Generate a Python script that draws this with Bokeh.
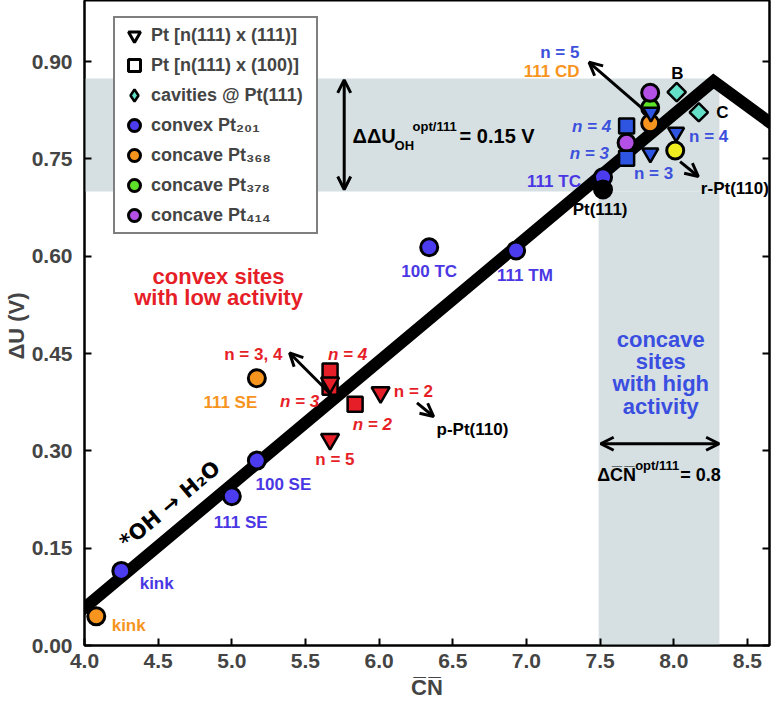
import math
from bokeh.plotting import figure
from bokeh.models import (Label, Arrow, OpenHead, BoxAnnotation, LinearAxis, FixedTicker,
                          Legend, LegendItem, NumeralTickFormatter, CustomJSTickFormatter)
from bokeh.embed import file_html
from bokeh.resources import INLINE

FONT = "Liberation Sans"
NAN = float("nan")

# ---------------- data ----------------
x_ticks = [4.0, 4.5, 5.0, 5.5, 6.0, 6.5, 7.0, 7.5, 8.0, 8.5]
y_ticks = [0.0, 0.15, 0.30, 0.45, 0.60, 0.75, 0.90]

volcano_x = [3.95, 8.27, 8.72]
volcano_y = [0.0485, 0.870, 0.795]

convex_x = [4.25, 5.00, 5.17, 6.34, 6.93, 7.52]
convex_y = [0.115, 0.230, 0.285, 0.614, 0.609, 0.722]
convex_lbl = ["kink", "111 SE", "100 SE", "100 TC", "111 TM", "111 TC"]

c368_x = [4.08, 5.17, 7.84]
c368_y = [0.045, 0.412, 0.805]
c368_lbl = ["kink", "111 SE", "111 CD"]

c378_x = [7.84]
c378_y = [0.829]

c414_x = [7.68, 7.84]
c414_y = [0.775, 0.852]

pt111_x = [7.52]
pt111_y = [0.703]

rpt110_x = [8.01]
rpt110_y = [0.763]

cav_x = [8.02, 8.17]
cav_y = [0.853, 0.822]
cav_lbl = ["B", "C"]

red_sq_n = ["4", "3", "2"]
red_sq_x = [5.667, 5.667, 5.837]
red_sq_y = [0.423, 0.398, 0.372]

red_tri_n = ["3, 4", "2", "5"]
red_tri_x = [5.667, 6.01, 5.667]
red_tri_y = [0.405, 0.390, 0.318]

blue_sq_n = ["4", "3"]
blue_sq_x = [7.68, 7.68]
blue_sq_y = [0.801, 0.751]

blue_tri_n = ["5", "4", "3"]
blue_tri_x = [7.845, 8.016, 7.841]
blue_tri_y = [0.822, 0.791, 0.759]

# ---------------- colours ----------------
C_BLUE = "#4b3cf0"
C_BLUE_TXT = "#4a37e4"
C_BLUE2 = "#2e55e2"
C_BLUE2_TXT = "#3c50dc"
C_ORANGE = "#f7941e"
C_GREEN = "#5de22a"
C_PURPLE = "#b450e6"
C_RED = "#e61e28"
C_CYAN = "#64e0c8"
C_YELLOW = "#f0ee1e"
C_BAND = "#d6e0e3"

p = figure(width=776, height=705, x_range=(4.0, 8.65), y_range=(0.0, 0.9943),
           output_backend="svg", toolbar_location=None,
           min_border_left=79, min_border_right=7, min_border_top=0, min_border_bottom=60)
p.grid.visible = False
p.outline_line_color = "black"
p.outline_line_width = 2
p.background_fill_color = "white"

# axes
p.xaxis.ticker = FixedTicker(ticks=x_ticks)
p.yaxis.ticker = FixedTicker(ticks=y_ticks)
p.xaxis.formatter = NumeralTickFormatter(format="0.0")
p.yaxis.formatter = NumeralTickFormatter(format="0.00")
p.xaxis.axis_label = "C\u0305N\u0305"
p.yaxis.axis_label = "\u0394U  (V)"
for ax in [p.xaxis[0], p.yaxis[0]]:
    ax.axis_line_width = 2
    ax.major_tick_line_width = 2
    ax.major_tick_in = 7
    ax.major_tick_out = 0
    ax.minor_tick_line_color = None
    ax.major_label_text_font = FONT
    ax.major_label_text_font_style = "bold"
    ax.major_label_text_font_size = "21px"
    ax.axis_label_text_font = FONT
    ax.axis_label_text_font_style = "bold"
    ax.axis_label_text_font_size = "22px"
p.xaxis.major_label_standoff = 8
p.yaxis.major_label_standoff = 12
p.xaxis.axis_label_standoff = 4
p.yaxis.axis_label_standoff = 0

ry = LinearAxis(ticker=FixedTicker(ticks=y_ticks),
                formatter=CustomJSTickFormatter(code="return ''"),
                major_tick_in=7, major_tick_out=0, axis_line_width=2, major_tick_line_width=2,
                minor_tick_line_color=None, major_label_standoff=0)
p.add_layout(ry, "right")

# grey bands
p.add_layout(BoxAnnotation(left=4.0, right=8.31, bottom=0.70, top=0.874,
                           fill_color=C_BAND, fill_alpha=1, line_color=None, level="underlay"))
p.add_layout(BoxAnnotation(left=7.49, right=8.31, bottom=0.0, top=0.70,
                           fill_color=C_BAND, fill_alpha=1, line_color=None, level="underlay"))

# volcano line
p.line(volcano_x, volcano_y, line_width=12, line_color="black", line_join="miter")

# markers
MS = 17
p.scatter(red_sq_x, red_sq_y, marker="square", size=15, fill_color=C_RED, line_color="black", line_width=2.5)
p.scatter(red_tri_x, red_tri_y, marker="inverted_triangle", size=18, fill_color=C_RED, line_color="black", line_width=2.5)
convex_r = p.scatter(convex_x, convex_y, marker="circle", size=MS, fill_color=C_BLUE, line_color="black", line_width=3)
p.scatter(pt111_x, pt111_y, marker="circle", size=MS, fill_color="black", line_color="black", line_width=3)
c368_r = p.scatter(c368_x, c368_y, marker="circle", size=MS, fill_color=C_ORANGE, line_color="black", line_width=3)
c378_r = p.scatter(c378_x, c378_y, marker="circle", size=MS, fill_color=C_GREEN, line_color="black", line_width=3)
c414_r = p.scatter(c414_x, c414_y, marker="circle", size=MS, fill_color=C_PURPLE, line_color="black", line_width=3)
p.scatter(blue_sq_x, blue_sq_y, marker="square", size=15, fill_color=C_BLUE2, line_color="black", line_width=2.5)
p.scatter(blue_tri_x, blue_tri_y, marker="inverted_triangle", size=16, fill_color=C_BLUE2, line_color="black", line_width=2.5)
p.scatter(rpt110_x, rpt110_y, marker="circle", size=MS, fill_color=C_YELLOW, line_color="black", line_width=3)
p.scatter(cav_x, cav_y, marker="square", angle=math.pi / 4, size=13, fill_color=C_CYAN,
          line_color="black", line_width=2.5)

# legend-only proxies (no visible points)
leg_tri = p.scatter([NAN], [NAN], marker="inverted_triangle", fill_color="white", line_color="black", line_width=3)
leg_sq = p.scatter([NAN], [NAN], marker="square", fill_color="white", line_color="black", line_width=3)
leg_dia = p.scatter([NAN], [NAN], marker="diamond", fill_color=C_CYAN, line_color="black", line_width=2.5)

legend = Legend(items=[
    LegendItem(label="Pt [n(111) x (111)]", renderers=[leg_tri]),
    LegendItem(label="Pt [n(111) x (100)]", renderers=[leg_sq]),
    LegendItem(label="cavities @ Pt(111)", renderers=[leg_dia]),
    LegendItem(label="convex Pt\u2082\u2080\u2081", renderers=[convex_r]),
    LegendItem(label="concave Pt\u2083\u2086\u2088", renderers=[c368_r]),
    LegendItem(label="concave Pt\u2083\u2087\u2088", renderers=[c378_r]),
    LegendItem(label="concave Pt\u2084\u2081\u2084", renderers=[c414_r]),
], location=(29, 411), glyph_width=34, glyph_height=30, label_height=30, spacing=0,
   padding=2, label_standoff=0, label_width=163, margin=0,
   border_line_color="black", border_line_width=2, background_fill_alpha=1,
   label_text_font=FONT, label_text_font_style="bold", label_text_font_size="18px")
p.add_layout(legend)


def lab(text, x, y, color="black", size=17, align="center", style="bold", angle=0, xo=0, yo=0,
        font=FONT):
    p.add_layout(Label(x=x, y=y, text=text, text_color=color, text_font=font,
                       text_font_size=f"{size}px", text_font_style=style, text_align=align,
                       text_baseline="middle", angle=angle, angle_units="deg",
                       x_offset=xo, y_offset=yo))


def arrow(x0, y0, x1, y1, both=False):
    kw = dict(size=13, line_width=3, line_color="black")
    p.add_layout(Arrow(x_start=x0, y_start=y0, x_end=x1, y_end=y1, line_width=3,
                       line_color="black", end=OpenHead(**kw),
                       start=OpenHead(**kw) if both else None))


# convex labels
conv_pos = [(4.49, 0.095, "center"), (5.06, 0.19, "center"), (5.35, 0.248, "center"),
            (6.34, 0.577, "center"), (6.99, 0.571, "center"), (7.37, 0.716, "right")]
for t, (x, y, a) in zip(convex_lbl, conv_pos):
    lab(t, x, y, C_BLUE_TXT, align=a)

c368_pos = [(4.30, 0.031, "center"), (4.99, 0.375, "center"), (7.36, 0.885, "right")]
for t, (x, y, a) in zip(c368_lbl, c368_pos):
    lab(t, x, y, C_ORANGE, align=a)

cav_pos = [(8.025, 0.881, "center"), (8.33, 0.821, "center")]
for t, (x, y, a) in zip(cav_lbl, cav_pos):
    lab(t, x, y, "black", align=a)

lab("Pt(111)", 7.50, 0.672)
lab("r-Pt(110)", 8.415, 0.705)
lab("p-Pt(110)", 6.39, 0.333, align="left")

# red step labels
lab("n = " + red_tri_n[0], 5.146, 0.448, C_RED)
lab("n = " + red_tri_n[1], 6.10, 0.392, C_RED, align="left")
lab("n = " + red_tri_n[2], 5.70, 0.287, C_RED)
lab("n = " + red_sq_n[0], 5.786, 0.448, C_RED, style="bold italic")
lab("n = " + red_sq_n[1], 5.46, 0.376, C_RED, style="bold italic")
lab("n = " + red_sq_n[2], 5.954, 0.340, C_RED, style="bold italic")

# blue step labels
lab("n = " + blue_tri_n[0], 7.36, 0.914, C_BLUE2_TXT, align="right")
lab("n = " + blue_tri_n[1], 8.104, 0.785, C_BLUE2_TXT, align="left")
lab("n = " + blue_tri_n[2], 7.863, 0.727, C_BLUE2_TXT)
lab("n = " + blue_sq_n[0], 7.575, 0.800, C_BLUE2_TXT, align="right", style="bold italic")
lab("n = " + blue_sq_n[1], 7.56, 0.759, C_BLUE2_TXT, align="right", style="bold italic")

# region texts
lab("convex sites", 4.91, 0.569, C_RED, size=22)
lab("with low activity", 4.91, 0.536, C_RED, size=22)
for t, y in zip(["concave", "sites", "with high", "activity"], [0.472, 0.438, 0.404, 0.369]):
    lab(t, 7.912, y, "#3a4fe0", size=22)

lab("*OH \u2192 H\u2082O", 4.58, 0.217, "black", size=21, angle=40, font="DejaVu Sans")

# Delta Delta U annotation
arrow(5.763, 0.787, 5.763, 0.872)
arrow(5.763, 0.787, 5.763, 0.703)
lab("\u0394\u0394U", 5.82, 0.785, size=20, align="left")
lab("OH", 5.82, 0.785, size=13, align="left", xo=42, yo=-9)
lab("opt/111", 5.82, 0.785, size=13, align="left", xo=60, yo=10)
lab("= 0.15 V", 5.82, 0.785, size=20, align="left", xo=107)

# Delta CN annotation
arrow(7.90, 0.311, 8.308, 0.311)
arrow(7.90, 0.311, 7.504, 0.311)
lab("\u0394C\u0305N\u0305", 7.48, 0.263, size=18, align="left")
lab("opt/111", 7.48, 0.263, size=13, align="left", xo=38, yo=9)
lab("= 0.8", 7.48, 0.263, size=18, align="left", xo=83)

# pointer arrows
arrow(5.673, 0.387, 5.392, 0.451)
arrow(6.257, 0.374, 6.37, 0.353)
arrow(7.796, 0.826, 7.425, 0.899)
arrow(8.043, 0.746, 8.167, 0.723)

open("out.html", "w").write(file_html(p, INLINE))
